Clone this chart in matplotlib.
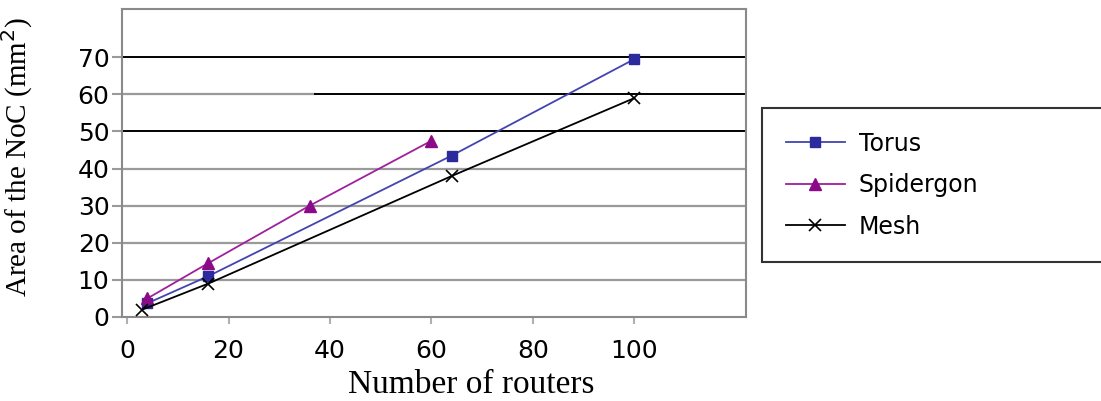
import matplotlib
matplotlib.use("Agg")
import matplotlib.pyplot as plt

# data
torus_x = [4, 16, 64, 100]
torus_y = [3.7, 11, 43.5, 69.5]
spider_x = [4, 16, 36, 60]
spider_y = [5, 14.5, 30, 47.5]
mesh_x = [3, 16, 64, 100]
mesh_y = [2, 9, 38, 59]
xticks = [0, 20, 40, 60, 80, 100]
yticks = [0, 10, 20, 30, 40, 50, 60, 70]

GRID_GRAY = "#9a9a9a"
SPINE = "#8a8a8a"

fig = plt.figure(figsize=(11.01, 4.01), dpi=100)
ax = fig.add_axes([122 / 1101, 1 - 317 / 401, 624 / 1101, 308 / 401])

# horizontal gridlines: some are drawn black in the original
for v in yticks[1:]:
    if v in (50, 70):
        ax.axhline(v, color="black", lw=1.4, zorder=1)
    elif v == 60:
        ax.axhline(v, xmax=0.31, color=GRID_GRAY, lw=1.6, zorder=1)
        ax.axhline(v, xmin=0.31, color="black", lw=1.4, zorder=1)
    else:
        ax.axhline(v, color=GRID_GRAY, lw=1.6, zorder=1)

ax.plot(torus_x, torus_y, color="#4444b0", lw=1.3, marker="s", ms=7,
        mfc="#2b2b9e", mec="#2b2b9e", label="Torus", zorder=3)
ax.plot(spider_x, spider_y, color="#a0209c", lw=1.3, marker="^", ms=8,
        mfc="#8a0a88", mec="#8a0a88", label="Spidergon", zorder=3)
ax.plot(mesh_x, mesh_y, color="black", lw=1.3, marker="x", ms=8, mew=1.2,
        label="Mesh", zorder=3)

ax.set_xlim(-1, 122)
ax.set_ylim(0, 83)
ax.set_xticks(xticks)
ax.set_yticks(yticks)
for s in ax.spines.values():
    s.set_color(SPINE)
    s.set_linewidth(1.5)
ax.tick_params(axis="x", length=5, width=1.5, color="#b0b0b0", pad=11,
               labelsize=18)
ax.tick_params(axis="y", length=7, width=1.5, color=GRID_GRAY, pad=2,
               labelsize=18)
for lab in ax.get_xticklabels() + ax.get_yticklabels():
    lab.set_fontfamily("DejaVu Sans")

ax.set_ylabel("Area of the NoC (mm$^2$)", family="Liberation Serif",
              fontsize=21)
ax.yaxis.set_label_coords(-0.14, 0.52)
ax.set_xlabel("Number of routers", family="Liberation Serif", fontsize=24)
ax.xaxis.set_label_coords(0.56, -0.17)

leg = fig.legend(loc="upper left",
                 bbox_to_anchor=(762 / 1101, 0.2, 360 / 1101, 1 - 108 / 401 - 0.2),
                 mode="expand", prop={"family": "DejaVu Sans", "size": 17},
                 frameon=True, fancybox=False, borderpad=1.0, labelspacing=0.74,
                 handlelength=2.5, handletextpad=0.6, borderaxespad=0)
leg.get_frame().set_edgecolor("black")
leg.get_frame().set_linewidth(1.5)

fig.savefig("out.png", dpi=100)
